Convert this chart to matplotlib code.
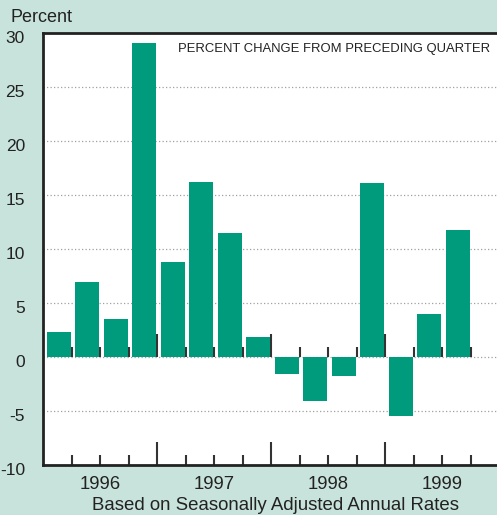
import numpy as np
import matplotlib
matplotlib.use("Agg")
import matplotlib.pyplot as plt
import matplotlib.transforms as mtransforms

# Donnees (variation trimestrielle, %)
trimestres = ["96T1", "96T2", "96T3", "96T4",
              "97T1", "97T2", "97T3", "97T4",
              "98T1", "98T2", "98T3", "98T4",
              "99T1", "99T2", "99T3"]
valeurs = [2.3, 6.9, 3.5, 29.1,
           8.8, 16.2, 11.5, 1.85,
           -1.6, -4.05, -1.75, 16.1,
           -5.5, 4.0, 11.75]
annees = ["1996", "1997", "1998", "1999"]
yticks = [-10, -5, 0, 5, 10, 15, 20, 25, 30]

fond = "#c8e3db"
vert = "#009b7c"
sombre = "#333333"

plt.rcParams['font.family'] = ['Liberation Sans', 'DejaVu Sans']
plt.rcParams['axes.unicode_minus'] = False

fig = plt.figure(figsize=(4.97, 5.15), dpi=100, facecolor=fond)
ax = fig.add_axes([43/497, 50/515, 456/497, 432/515])
ax.set_facecolor("white")

n_slots = 4 * len(annees)
x = np.arange(len(valeurs))
ax.bar(x + 0.13, valeurs, width=0.84, align="edge", color=vert, zorder=3)

ax.set_xlim(0, n_slots)
ax.set_ylim(-10, 30)

# grille pointillee
for y in yticks[1:-1]:
    ax.axhline(y, color="#a0a0a0", lw=0.9, ls=(0, (1, 1.8)), zorder=1)

# petites marques aux limites des trimestres (axe du bas et ligne zero)
bornes = np.arange(1, n_slots)
for b in bornes:
    h = 2.1 if b % 4 == 0 else 0.93
    ax.vlines(b, -10, -10 + h, color=sombre, lw=1.5, zorder=2)
    ax.vlines(b, 0, h, color=sombre, lw=1.5, zorder=2)

# etiquettes des annees
ax.set_xticks(np.arange(len(annees)) * 4 + 2)
ax.set_xticklabels(annees)
ax.tick_params(axis="x", length=0, pad=8, labelsize=13.3, colors="#222222")

ax.set_yticks(yticks)
ax.tick_params(axis="y", length=0, pad=13, labelsize=12.5, colors="#222222")
decal = mtransforms.ScaledTranslation(0, -4/100, fig.dpi_scale_trans)
for lab in ax.get_yticklabels():
    lab.set_transform(lab.get_transform() + decal)

for s in ["left", "bottom", "top"]:
    ax.spines[s].set_color("#222222")
    ax.spines[s].set_linewidth(2)
ax.spines["right"].set_visible(False)

fig.text(10/497, 1 - 22/515, "Percent", fontsize=13, color="#222222",
         va="baseline", ha="left")
ax.text((490 - 43)/456, 1 - 16/432, "PERCENT CHANGE FROM PRECEDING QUARTER",
        transform=ax.transAxes, ha="right", va="center", fontsize=9.4,
        color="#222222")
fig.text(275/497, 1 - 506/515, "Based on Seasonally Adjusted Annual Rates",
         fontsize=13.4, ha="center", va="center", color="#222222")

fig.savefig("out.png", dpi=100, facecolor=fond)
